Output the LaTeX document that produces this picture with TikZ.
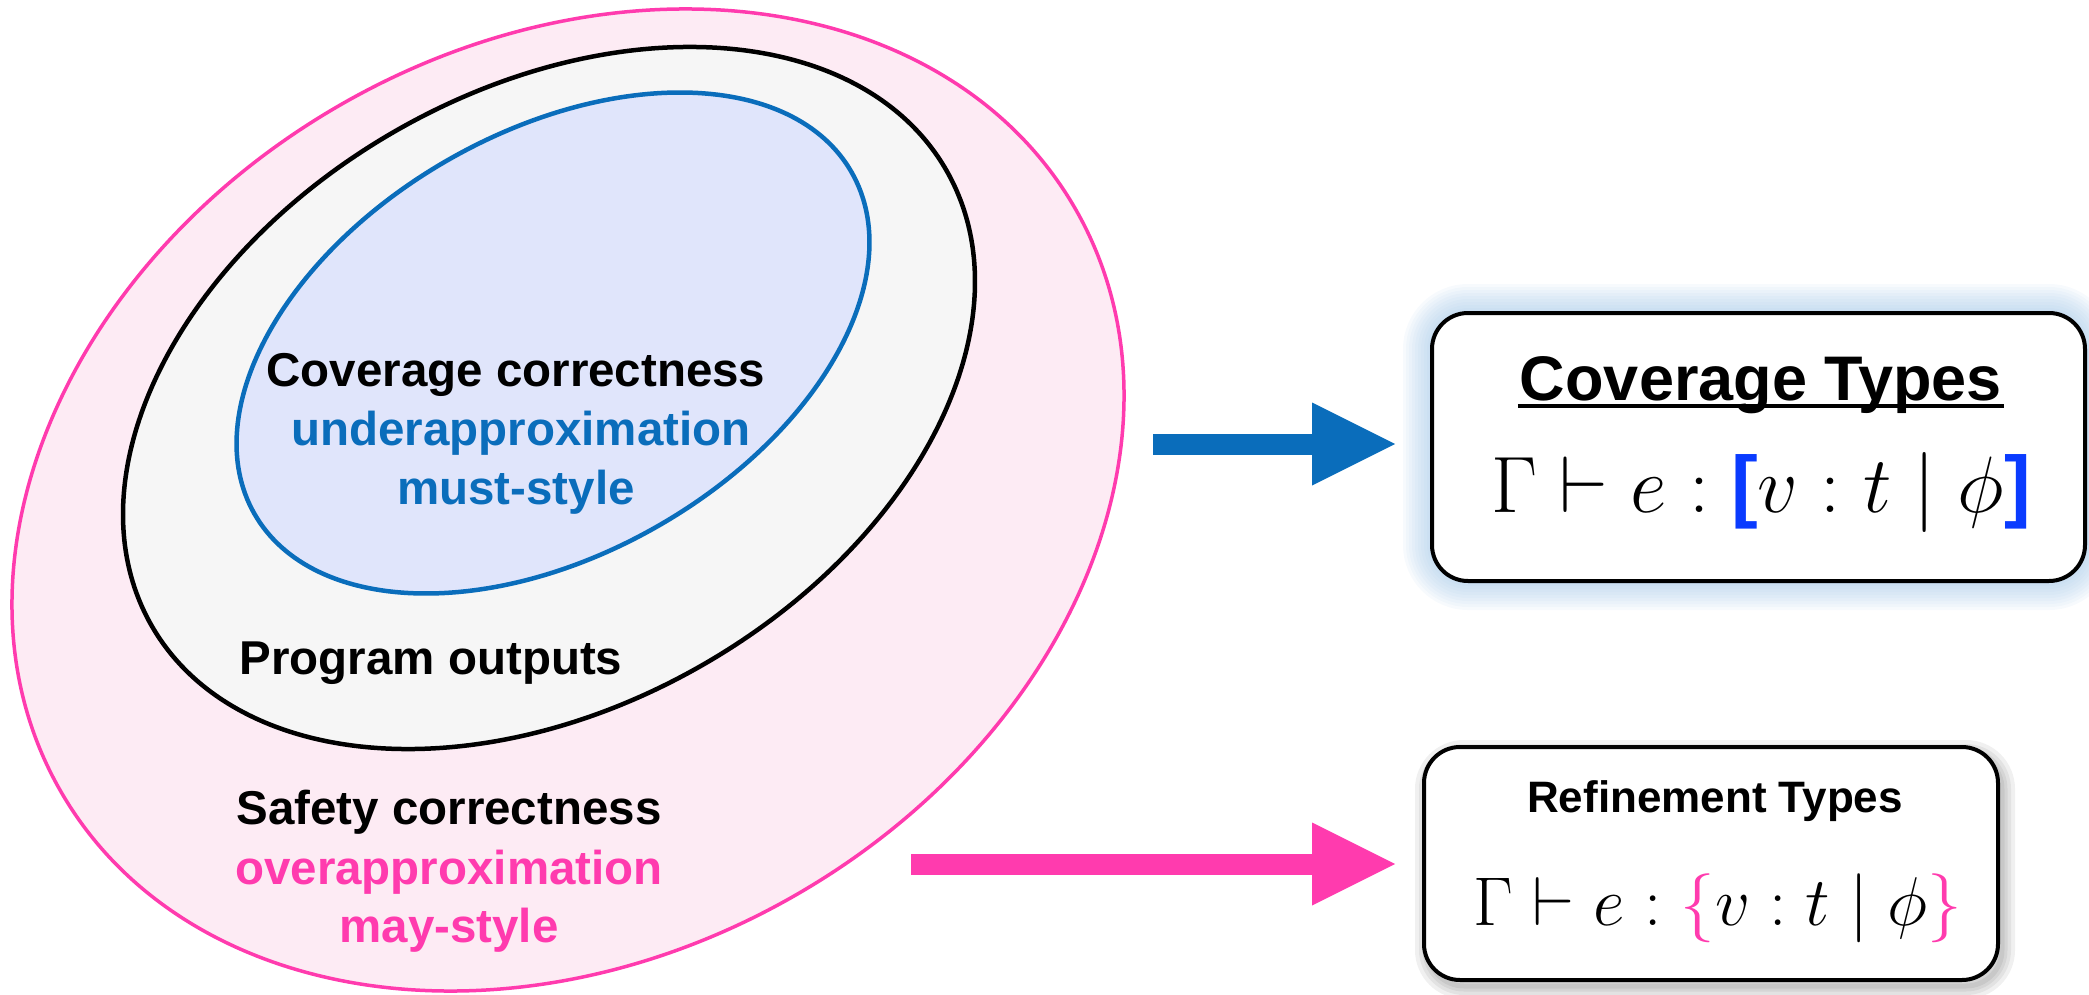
\documentclass[tikz,border=0pt]{standalone}
\usepackage{fix-cm}
\usepackage[no-math]{fontspec}
\setmainfont{Liberation Sans}
\usetikzlibrary{shapes.geometric,arrows.meta}

\definecolor{safepink}{HTML}{FF3BAE}
\definecolor{safefill}{HTML}{FDEBF4}
\definecolor{outfill}{HTML}{F6F6F6}
\definecolor{covblue}{HTML}{0A6DBB}
\definecolor{covfill}{HTML}{E0E5FB}
\definecolor{brackblue}{HTML}{0A3BFF}
\definecolor{glowblue}{HTML}{9DC3E6}

\tikzset{
  region/.style={ellipse, inner sep=0pt, rotate=29.8},
  lbl/.style={font=\fontsize{47.5}{59}\selectfont\bfseries, anchor=base, inner sep=0pt},
  typebox/.style={draw, line width=4pt, rounded corners=36pt, fill=white},
  bigarrow/.style={line width=21pt, -{Triangle[length=83pt,width=83pt,line width=0pt]}},
}

\begin{document}
\begin{tikzpicture}[x=1pt,y=-1pt]
        \useasboundingbox (0,0) rectangle (2089,995);

        % nested regions
        \node[region, draw=safepink, fill=safefill, line width=3.5pt,
              minimum width=1170pt, minimum height=912pt] (safety) at (568,500) {};
        \node[region, draw=black, fill=outfill, line width=4.5pt,
              minimum width=916pt, minimum height=616pt] (outputs) at (549,398) {};
        \node[region, draw=covblue, fill=covfill, line width=4.5pt,
              minimum width=688pt, minimum height=422pt] (coverage) at (553,343) {};

        \node[lbl] (covtitle) at (516,386) {Coverage correctness};
        \node[lbl, covblue] (covunder) at (521,445) {underapproximation};
        \node[lbl, covblue] (covmust) at (516,504) {must-style};
        \node[lbl] (outtitle) at (431,674) {Program outputs};
        \node[lbl] (saftitle) at (449,824) {Safety correctness};
        \node[lbl, safepink] (safover) at (449,884) {overapproximation};
        \node[lbl, safepink] (safmay) at (449,942) {may-style};

        % glow and shadow
        \foreach \w in {58,52,46,40,34,28,22,16,10,5}
            \draw[glowblue, opacity=0.08, line width=\w pt, rounded corners=36pt]
                (1432,313) rectangle (2085,581);
        \foreach \w in {26,18,11,5}
            \draw[black, opacity=0.06, line width=\w pt, rounded corners=36pt]
                (1428,753) rectangle (2002,986);

        \node[typebox, minimum width=653pt, minimum height=268pt] (covbox) at (1758.5,447) {};
        \node[typebox, minimum width=574pt, minimum height=233pt] (refbox) at (1711,863.5) {};

        \node[anchor=base, inner sep=0pt, font=\fontsize{63}{70}\selectfont\bfseries]
            (covname) at (1761,400) {Coverage Types};
        \draw[line width=3.5pt] ([xshift=-2pt,yshift=-6pt]covname.base west)
            -- ([xshift=2pt,yshift=-6pt]covname.base east);
        \node[anchor=base, inner sep=0pt, font=\fontsize{80}{90}\selectfont]
            (covrule) at (1761,512)
            {$\Gamma \vdash e : \textcolor{brackblue}{\mbox{\bfseries[}} v : t \mid \phi \textcolor{brackblue}{\mbox{\bfseries]}}$};

        \node[anchor=base, inner sep=0pt, font=\fontsize{44}{50}\selectfont\bfseries]
            (refname) at (1715,812) {Refinement Types};
        \node[anchor=base, inner sep=0pt, font=\fontsize{69}{80}\selectfont]
            (refrule) at (1718,925)
            {$\Gamma \vdash e : \textcolor{safepink}{\{} v : t \mid \phi \textcolor{safepink}{\}}$};

        % arrows
        \coordinate (covtail) at (1153,444);
        \coordinate (saftail) at (911,864);
        \draw[bigarrow, covblue, shorten >=35pt] (covtail) -- (covtail -| covbox.west);
        \draw[bigarrow, safepink, shorten >=27pt] (saftail) -- (saftail -| refbox.west);
    \end{tikzpicture}
\end{document}
